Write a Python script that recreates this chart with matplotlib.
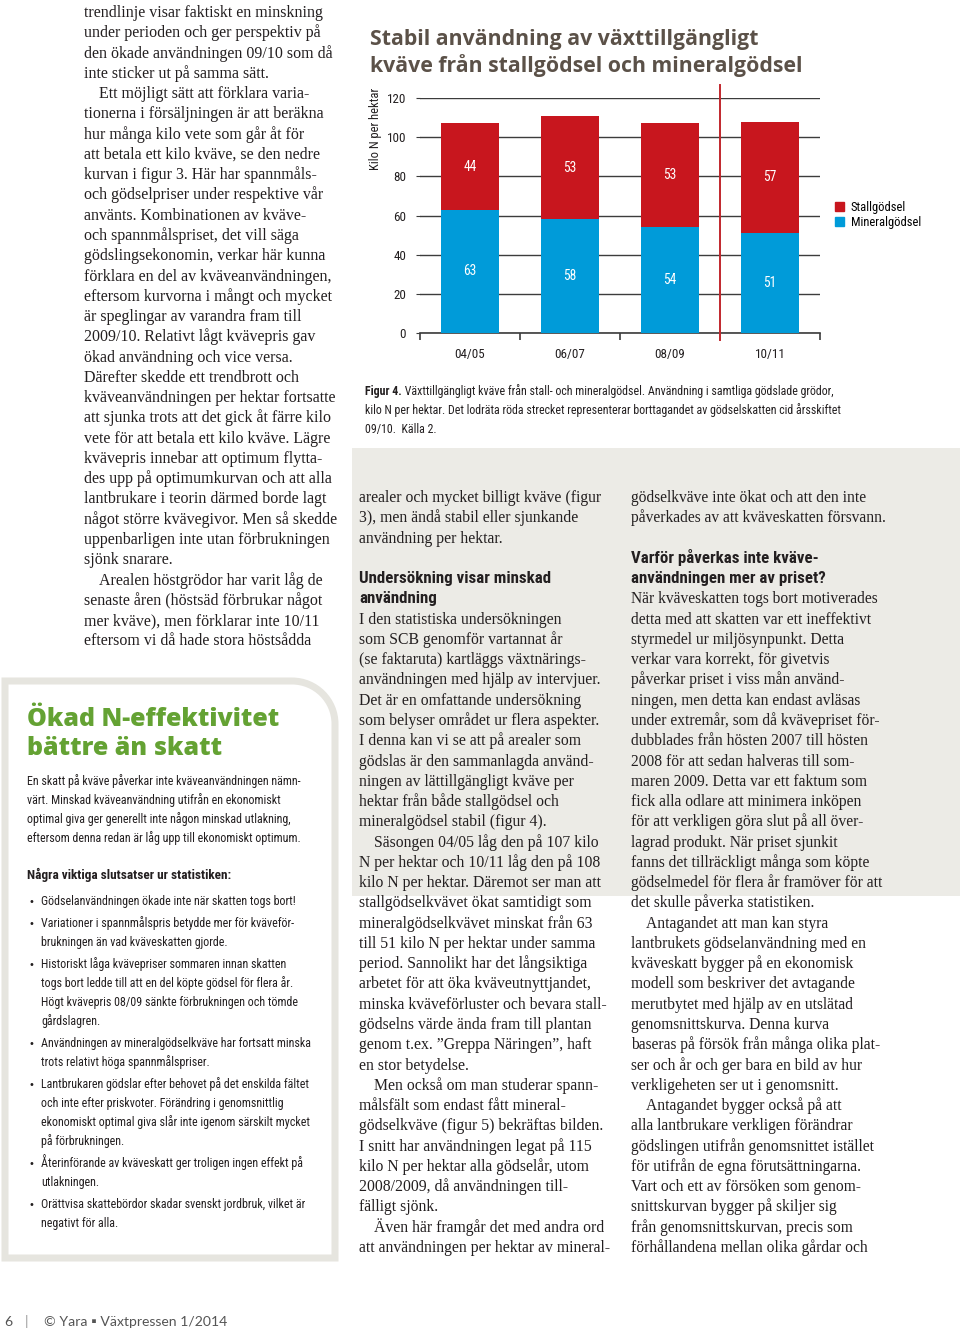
#!/usr/bin/env python3
"""
Magazine page with figure 4: plant-available nitrogen from manure and mineral fertiliser.
"""

import matplotlib
matplotlib.use("Agg")
import matplotlib.pyplot as plt
from matplotlib import font_manager
from matplotlib.patches import Rectangle, Patch, PathPatch
from matplotlib.path import Path
from matplotlib.transforms import Affine2D

W, H = 960, 1330

# Chart data (kilo N per hektar)
seasons = ["04/05", "06/07", "08/09", "10/11"]
mineral = [63, 58, 54, 51]
stall = [44, 53, 53, 57]
series_names = ["Stallgödsel", "Mineralgödsel"]
yticks = [0, 20, 40, 60, 80, 100, 120]
tax_removed_after = "08/09"  # gödselskatten togs bort vid årsskiftet 09/10

RED = "#c8161e"
BLUE = "#009bd9"
PANEL = "#ecebe6"
TITLE_C = "#5b5148"
GREEN = "#64a233"
BORDER = "#e6e5df"
INK = "#231f20"
GRID = "#3c3c3c"


def pick(names):
    for n in names:
        try:
            font_manager.findfont(font_manager.FontProperties(family=n),
                                  fallback_to_default=False)
            return n
        except Exception:
            pass
    return "DejaVu Sans"


NARROW = pick(["Liberation Sans Narrow", "Roboto Condensed", "Liberation Sans"])
SERIF = pick(["Liberation Serif", "DejaVu Serif"])
ROUND = pick(["Lato", "Open Sans", "DejaVu Sans"])
WIDE = pick(["Open Sans", "Lato", "DejaVu Sans"])


def pt(px):
    return px * 0.72


fig = plt.figure(figsize=(W / 100, H / 100), dpi=100)
fig.patch.set_facecolor("white")
PX = Affine2D().scale(1 / W, -1 / H).translate(0, 1) + fig.transFigure


def txt(x, y, s, size, family=SERIF, **kw):
    kw.setdefault("color", INK)
    kw.setdefault("va", "baseline")
    return fig.text(x, y, s, transform=PX, fontsize=pt(size), family=[family, "DejaVu Sans"], **kw)


def run(x, y, parts, size, family=NARROW, **kw):
    r = fig.canvas.get_renderer()
    for s, weight in parts:
        t = txt(x, y, s, size, family=family, fontweight=weight, **kw)
        x += t.get_window_extent(renderer=r).width


# ---------------- chart panel ----------------
fig.patches.append(Rectangle((352, 448), W - 352, 448, transform=PX,
                             facecolor=PANEL, edgecolor="none", zorder=0))
txt(370, 45, "Stabil användning av växttillgängligt", 21.3, family=WIDE,
    fontweight="bold", color=TITLE_C)
txt(370, 72, "kväve från stallgödsel och mineralgödsel", 21.3, family=WIDE,
    fontweight="bold", color=TITLE_C)

ax = fig.add_axes([420 / W, 1 - 333 / H, 400 / W, 235 / H])
ax.set_facecolor("none")
x = list(range(len(seasons)))
bars_m = ax.bar(x, mineral, width=0.58, color=BLUE, zorder=3)
bars_s = ax.bar(x, stall, bottom=mineral, width=0.58, color=RED, zorder=3)
for i in x:
    ax.text(i, mineral[i] / 2, str(mineral[i]), ha="center", va="center",
            color="white", fontsize=pt(13.5), family=NARROW, zorder=4)
    ax.text(i, mineral[i] + stall[i] / 2, str(stall[i]), ha="center", va="center",
            color="white", fontsize=pt(13.5), family=NARROW, zorder=4)

ax.set_xlim(-0.5, len(seasons) - 0.5)
ax.set_ylim(0, 120)
ax.set_yticks(yticks)
ax.yaxis.grid(True, color=GRID, linewidth=1.0)
ax.set_axisbelow(True)
for side in ["left", "right", "top"]:
    ax.spines[side].set_visible(False)
ax.spines["bottom"].set_color(GRID)
ax.spines["bottom"].set_linewidth(1.2)
ax.tick_params(axis="y", length=3, color=GRID, pad=7, labelsize=pt(13),
               labelcolor=INK)
ax.set_xticks(x)
ax.set_xticklabels(seasons)
ax.tick_params(axis="x", which="major", length=0, pad=11, labelsize=pt(13),
               labelcolor=INK)
cut = seasons.index(tax_removed_after) + 0.5
ax.set_xticks([b - 0.5 for b in range(len(seasons) + 1) if b - 0.5 != cut], minor=True)
ax.tick_params(axis="x", which="minor", length=5, width=1.2, color=GRID, direction="out")
for lab in ax.get_xticklabels() + ax.get_yticklabels():
    lab.set_family(NARROW)
ax.plot([cut, cut], [-3.5, 126.5], color="#c1272d", lw=1.4, clip_on=False, zorder=5)

txt(375, 129, "Kilo N per hektar", 12.5, family=NARROW, rotation=90,
    ha="center", va="center")
ax.legend(handles=[Patch(color=RED, label=series_names[0]),
                   Patch(color=BLUE, label=series_names[1])],
          loc="upper left", bbox_to_anchor=(835 / W, 1 - 201 / H),
          bbox_transform=fig.transFigure, frameon=False, borderpad=0,
          borderaxespad=0, handlelength=0.75, handleheight=0.75,
          handletextpad=0.5, labelspacing=0.15,
          prop={"family": NARROW, "size": pt(12.5)})

run(365, 395, [("Figur 4.", "bold"),
               (" Växttillgängligt kväve från stall- och mineralgödsel. "
                "Användning i samtliga gödslade grödor,", "normal")], 11.9)
txt(365, 414, "kilo N per hektar. Det lodräta röda strecket representerar "
    "borttagandet av gödselskatten cid årsskiftet", 11.9, family=NARROW)
txt(365, 433, "09/10.  Källa 2.", 11.9, family=NARROW)

# ---------------- body text ----------------
left_col = [
    "trendlinje visar faktiskt en minskning",
    "under perioden och ger perspektiv på",
    "den ökade användningen 09/10 som då",
    "inte sticker ut på samma sätt.",
    "\tEtt möjligt sätt att förklara varia-",
    "tionerna i försäljningen är att beräkna",
    "hur många kilo vete som går åt för",
    "att betala ett kilo kväve, se den nedre",
    "kurvan i figur 3. Här har spannmåls-",
    "och gödselpriser under respektive vår",
    "använts. Kombinationen av kväve-",
    "och spannmålspriset, det vill säga",
    "gödslingsekonomin, verkar här kunna",
    "förklara en del av kväveanvändningen,",
    "eftersom kurvorna i mångt och mycket",
    "är speglingar av varandra fram till",
    "2009/10. Relativt lågt kvävepris gav",
    "ökad användning och vice versa.",
    "Därefter skedde ett trendbrott och",
    "kväveanvändningen per hektar fortsatte",
    "att sjunka trots att det gick åt färre kilo",
    "vete för att betala ett kilo kväve. Lägre",
    "kvävepris innebar att optimum flytta-",
    "des upp på optimumkurvan och att alla",
    "lantbrukare i teorin därmed borde lagt",
    "något större kvävegivor. Men så skedde",
    "uppenbarligen inte utan förbrukningen",
    "sjönk snarare.",
    "\tArealen höstgrödor har varit låg de",
    "senaste åren (höstsäd förbrukar något",
    "mer kväve), men förklarar inte 10/11",
    "eftersom vi då hade stora höstsådda",
]

mid_col = [
    "arealer och mycket billigt kväve (figur",
    "3), men ändå stabil eller sjunkande",
    "användning per hektar.",
    "",
    "#Undersökning visar minskad",
    "#användning",
    "I den statistiska undersökningen",
    "som SCB genomför vartannat år",
    "(se faktaruta) kartläggs växtnärings-",
    "användningen med hjälp av intervjuer.",
    "Det är en omfattande undersökning",
    "som belyser området ur flera aspekter.",
    "I denna kan vi se att på arealer som",
    "gödslas är den sammanlagda använd-",
    "ningen av lättillgängligt kväve per",
    "hektar från både stallgödsel och",
    "mineralgödsel stabil (figur 4).",
    "\tSäsongen 04/05 låg den på 107 kilo",
    "N per hektar och 10/11 låg den på 108",
    "kilo N per hektar. Däremot ser man att",
    "stallgödselkvävet ökat samtidigt som",
    "mineralgödselkvävet minskat från 63",
    "till 51 kilo N per hektar under samma",
    "period. Sannolikt har det långsiktiga",
    "arbetet för att öka kväveutnyttjandet,",
    "minska kväveförluster och bevara stall-",
    "gödselns värde ända fram till plantan",
    "genom t.ex. ”Greppa Näringen”, haft",
    "en stor betydelse.",
    "\tMen också om man studerar spann-",
    "målsfält som endast fått mineral-",
    "gödselkväve (figur 5) bekräftas bilden.",
    "I snitt har användningen legat på 115",
    "kilo N per hektar alla gödselår, utom",
    "2008/2009, då användningen till-",
    "fälligt sjönk.",
    "\tÄven här framgår det med andra ord",
    "att användningen per hektar av mineral-",
]

right_col = [
    "gödselkväve inte ökat och att den inte",
    "påverkades av att kväveskatten försvann.",
    "",
    "#Varför påverkas inte kväve-",
    "#användningen mer av priset?",
    "När kväveskatten togs bort motiverades",
    "detta med att skatten var ett ineffektivt",
    "styrmedel ur miljösynpunkt. Detta",
    "verkar vara korrekt, för givetvis",
    "påverkar priset i viss mån använd-",
    "ningen, men detta kan endast avläsas",
    "under extremår, som då kvävepriset för-",
    "dubblades från hösten 2007 till hösten",
    "2008 för att sedan halveras till som-",
    "maren 2009. Detta var ett faktum som",
    "fick alla odlare att minimera inköpen",
    "för att verkligen göra slut på all över-",
    "lagrad produkt. När priset sjunkit",
    "fanns det tillräckligt många som köpte",
    "gödselmedel för flera år framöver för att",
    "det skulle påverka statistiken.",
    "\tAntagandet att man kan styra",
    "lantbrukets gödselanvändning med en",
    "kväveskatt bygger på en ekonomisk",
    "modell som beskriver det avtagande",
    "merutbytet med hjälp av en utslätad",
    "genomsnittskurva. Denna kurva",
    "baseras på försök från många olika plat-",
    "ser och år och ger bara en bild av hur",
    "verkligeheten ser ut i genomsnitt.",
    "\tAntagandet bygger också på att",
    "alla lantbrukare verkligen förändrar",
    "gödslingen utifrån genomsnittet istället",
    "för utifrån de egna förutsättningarna.",
    "Vart och ett av försöken som genom-",
    "snittskurvan bygger på skiljer sig",
    "från genomsnittskurvan, precis som",
    "förhållandena mellan olika gårdar och",
]


def column(lines, x0, y0, step=20.27, size=15.8):
    for i, line in enumerate(lines):
        y = y0 + i * step
        if not line:
            continue
        if line.startswith("#"):
            txt(x0, y, line[1:], 16.9, family=NARROW, fontweight="bold")
        elif line.startswith("\t"):
            txt(x0 + 15, y, line[1:], size)
        else:
            txt(x0, y, line, size)


column(left_col, 84, 17, size=16.0)
column(mid_col, 359, 502)
column(right_col, 631, 502, size=15.55)

# ---------------- fact box ----------------
r = 43
k = 0.552 * r
verts = [(5, 1258), (5, 681), (335 - r, 681), (335 - r + k, 681),
         (335, 681 + r - k), (335, 681 + r), (335, 1258), (5, 1258)]
codes = [Path.MOVETO, Path.LINETO, Path.LINETO, Path.CURVE4, Path.CURVE4,
         Path.CURVE4, Path.LINETO, Path.CLOSEPOLY]
fig.patches.append(PathPatch(Path(verts, codes), transform=PX, facecolor="white",
                             edgecolor=BORDER, linewidth=pt(7), zorder=0))

txt(27, 726, "Ökad N-effektivitet", 25, family=WIDE, fontweight="heavy", color=GREEN)
txt(27, 755, "bättre än skatt", 25, family=WIDE, fontweight="heavy", color=GREEN)

intro = [
    "En skatt på kväve påverkar inte kväveanvändningen nämn-",
    "värt. Minskad kväveanvändning utifrån en ekonomiskt",
    "optimal giva ger generellt inte någon minskad utlakning,",
    "eftersom denna redan är låg upp till ekonomiskt optimum.",
]
for i, line in enumerate(intro):
    txt(27, 785 + i * 19, line, 12, family=NARROW)
txt(27, 879, "Några viktiga slutsatser ur statistiken:", 13.2, family=NARROW,
    fontweight="bold")

bullets = [
    ["Gödselanvändningen ökade inte när skatten togs bort!"],
    ["Variationer i spannmålspris betydde mer för kväveför-",
     "brukningen än vad kväveskatten gjorde."],
    ["Historiskt låga kvävepriser sommaren innan skatten",
     "togs bort ledde till att en del köpte gödsel för flera år.",
     "Högt kvävepris 08/09 sänkte förbrukningen och tömde",
     "gårdslagren."],
    ["Användningen av mineralgödselkväve har fortsatt minska",
     "trots relativt höga spannmålspriser."],
    ["Lantbrukaren gödslar efter behovet på det enskilda fältet",
     "och inte efter priskvoter. Förändring i genomsnittlig",
     "ekonomiskt optimal giva slår inte igenom särskilt mycket",
     "på förbrukningen."],
    ["Återinförande av kväveskatt ger troligen ingen effekt på",
     "utlakningen."],
    ["Orättvisa skattebördor skadar svenskt jordbruk, vilket är",
     "negativt för alla."],
]
y = 905
for item in bullets:
    txt(28, y, "•", 10, family="DejaVu Sans")
    for line in item:
        txt(41, y, line, 12, family=NARROW)
        y += 19
    y += 3

# ---------------- footer ----------------
txt(4, 1326, "6", 14, family=ROUND, color="#555555")
txt(25, 1326, "|", 14, family=ROUND, color="#9a9a9a")
txt(44, 1326, "© Yara ▪ Växtpressen 1/2014", 14, family=ROUND, color="#555555")

fig.savefig("out.png", dpi=100, facecolor="white")
plt.close(fig)
